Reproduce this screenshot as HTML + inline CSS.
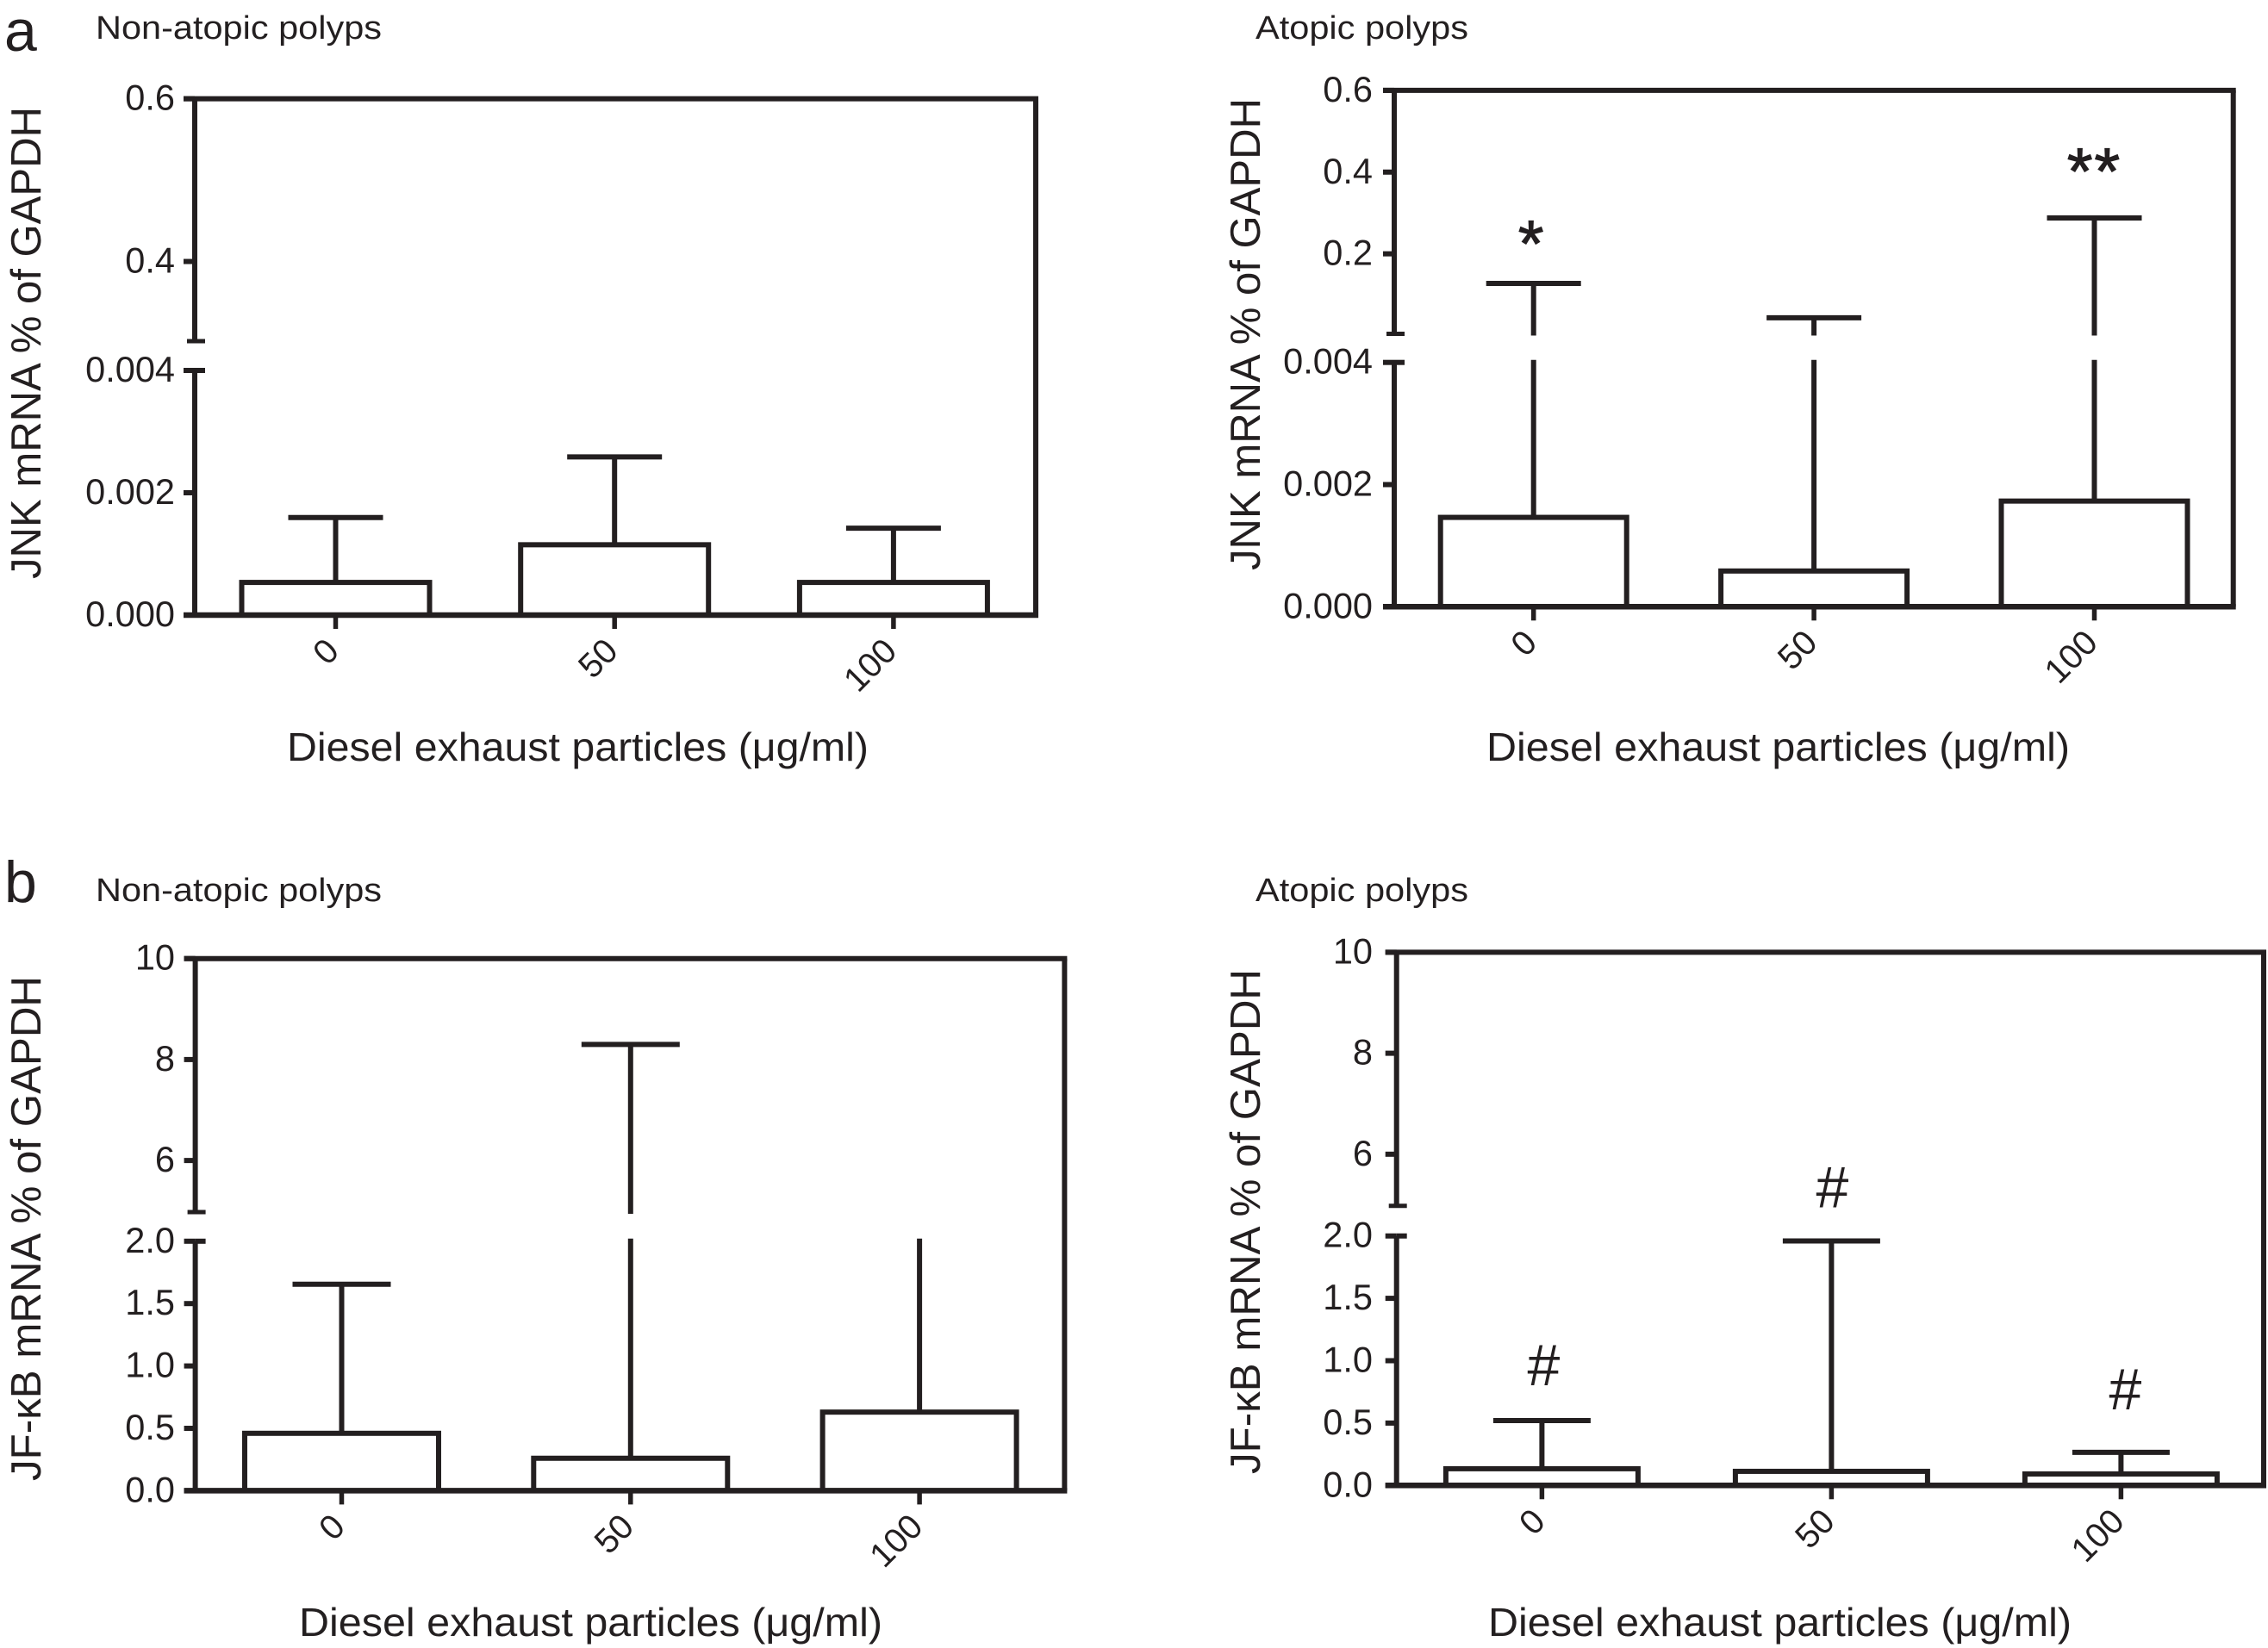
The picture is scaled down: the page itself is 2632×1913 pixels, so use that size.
<!DOCTYPE html>
<html lang="en">
<head>
<meta charset="utf-8">
<title>JNK and NF-kB mRNA by diesel exhaust particle dose</title>
<style>
html,body{margin:0;padding:0;background:#fff;}
svg{display:block;}
text{font-family:"Liberation Sans",sans-serif;fill:#231f20;}
</style>
</head>
<body>
<svg id="figure" width="2632" height="1913" viewBox="0 0 2632 1913" xmlns="http://www.w3.org/2000/svg">
  <rect width="2632" height="1913" fill="#fff"/>
  <text x="5" y="59" font-size="68">a</text>
  <text x="5" y="1047" font-size="68">b</text>
  <text x="111" y="45" font-size="38" textLength="332" lengthAdjust="spacingAndGlyphs">Non-atopic polyps</text>
  <text x="1457" y="45" font-size="38" textLength="247" lengthAdjust="spacingAndGlyphs">Atopic polyps</text>
  <text x="111" y="1046" font-size="38" textLength="332" lengthAdjust="spacingAndGlyphs">Non-atopic polyps</text>
  <text x="1457" y="1046" font-size="38" textLength="247" lengthAdjust="spacingAndGlyphs">Atopic polyps</text>
  <text transform="translate(47,672) rotate(-90)" font-size="49" textLength="548" lengthAdjust="spacingAndGlyphs">JNK mRNA % of GAPDH</text>
  <text transform="translate(1462,662) rotate(-90)" font-size="49" textLength="548" lengthAdjust="spacingAndGlyphs">JNK mRNA % of GAPDH</text>
  <text transform="translate(47,1719) rotate(-90)" font-size="49" textLength="586" lengthAdjust="spacingAndGlyphs">JF-κB mRNA % of GAPDH</text>
  <text transform="translate(1462,1711) rotate(-90)" font-size="49" textLength="586" lengthAdjust="spacingAndGlyphs">JF-κB mRNA % of GAPDH</text>
  <text x="333" y="883" font-size="46" textLength="675" lengthAdjust="spacingAndGlyphs">Diesel exhaust particles (μg/ml)</text>
  <text x="1725" y="883" font-size="46" textLength="677" lengthAdjust="spacingAndGlyphs">Diesel exhaust particles (μg/ml)</text>
  <text x="347" y="1899" font-size="46" textLength="677" lengthAdjust="spacingAndGlyphs">Diesel exhaust particles (μg/ml)</text>
  <text x="1727" y="1899" font-size="46" textLength="677" lengthAdjust="spacingAndGlyphs">Diesel exhaust particles (μg/ml)</text>
</svg>
<script>
// Shared categories
const doseCategories = ['0', '50', '100'];

// JNK, non-atopic
const jnkNonAtopicMeans = [0.000534, 0.00115, 0.000534];
const jnkNonAtopicUppers = [0.001595, 0.002586, 0.00142];
const jnkNonAtopicMarks = ['', '', ''];

// JNK, atopic
const jnkAtopicMeans = [0.001463, 0.000585, 0.00173];
const jnkAtopicUppers = [0.1276, 0.0434, 0.2878];
const jnkAtopicMarks = ['*', '', '**'];

// NF-kB, non-atopic (third whisker ends inside the axis break, so has no cap)
const nfkbNonAtopicMeans = [0.46, 0.26, 0.63];
const nfkbNonAtopicUppers = [1.655, 8.3, 3.5];
const nfkbNonAtopicMarks = ['', '', ''];

// NF-kB, atopic
const nfkbAtopicMeans = [0.134, 0.113, 0.092];
const nfkbAtopicUppers = [0.52, 1.96, 0.265];
const nfkbAtopicMarks = ['#', '#', '#'];

// Tick labels
const jnkLowerTicks = ['0.000', '0.002', '0.004'];
const jnkNonAtopicUpperTicks = ['0.4', '0.6'];
const jnkAtopicUpperTicks = ['0.2', '0.4', '0.6'];
const nfkbLowerTicks = ['0.0', '0.5', '1.0', '1.5', '2.0'];
const nfkbUpperTicks = ['6', '8', '10'];

const INK = '#231f20';
const SVG_NS = 'http://www.w3.org/2000/svg';
const figure = document.getElementById('figure');

function drawLine(parent, x1, y1, x2, y2, width, name) {
  const el = document.createElementNS(SVG_NS, 'line');
  
  
  el.setAttribute('x1', x1);
  el.setAttribute('y1', y1);
  el.setAttribute('x2', x2);
  el.setAttribute('y2', y2);
  el.setAttribute('stroke', INK);
  el.setAttribute('stroke-width', width);
  parent.appendChild(el);
  return el;
}

function drawText(parent, x, y, content, size, anchor, name, transform) {
  const el = document.createElementNS(SVG_NS, 'text');
  
  
  el.setAttribute('x', x);
  el.setAttribute('y', y);
  el.setAttribute('font-size', size);
  el.setAttribute('text-anchor', anchor);
  if (transform) el.setAttribute('transform', transform);
  el.textContent = content;
  parent.appendChild(el);
  return el;
}

function drawPanel(p) {
  const g = document.createElementNS(SVG_NS, 'g');
  
  
  figure.appendChild(g);

  // Broken y axis: two linear scales
  const yLow = v => p.y0 + (p.yLowTop - p.y0) * (v - 0) / p.lowMax;
  const yUp = v => p.yUpBottom + (p.yTop - p.yUpBottom) * (v - p.upMin) / (p.upMax - p.upMin);
  // Categorical x axis
  const xCenter = i => p.xFirst + i * p.xStep;

  const tickLeft = p.xLeft - 13;
  // Frame and axis segments
  drawLine(g, tickLeft, p.yTop, p.xRight + 3, p.yTop, 6, p.name + '-top-border');
  drawLine(g, p.xRight, p.yTop, p.xRight, p.y0, 6, p.name + '-right-border');
  drawLine(g, p.xLeft, p.yTop, p.xLeft, p.yUpBottom, 6, p.name + '-y-axis-upper');
  drawLine(g, p.xLeft, p.yLowTop, p.xLeft, p.y0, 6, p.name + '-y-axis-lower');
  drawLine(g, p.xLeft - 9, p.yUpBottom - 2, p.xLeft + 12, p.yUpBottom - 2, 5, p.name + '-axis-break-upper');
  drawLine(g, p.xLeft + 0, p.yLowTop, p.xLeft + 12, p.yLowTop, 6, p.name + '-axis-break-lower');

  // Bars and whiskers
  p.means.forEach((mean, i) => {
    const cx = xCenter(i);
    const upper = p.uppers[i];
    const hw = p.barWidth / 2;
    const top = yLow(mean);
    const cat = doseCategories[i];
    if (upper <= p.lowMax) {
      drawLine(g, cx, top, cx, yLow(upper), 6, p.name + '-whisker-' + cat);
      drawLine(g, cx - p.capWidth / 2, yLow(upper), cx + p.capWidth / 2, yLow(upper), 6, p.name + '-cap-' + cat);
    } else {
      drawLine(g, cx, top, cx, p.yLowTop - 3, 6, p.name + '-whisker-' + cat);
      if (upper >= p.upMin) {
        drawLine(g, cx, p.yUpBottom, cx, yUp(upper), 6, p.name + '-whisker-upper-' + cat);
        drawLine(g, cx - p.capWidth / 2, yUp(upper), cx + p.capWidth / 2, yUp(upper), 6, p.name + '-cap-' + cat);
      }
    }
    const bar = document.createElementNS(SVG_NS, 'rect');
    
    
    bar.setAttribute('x', cx - hw);
    bar.setAttribute('y', top);
    bar.setAttribute('width', p.barWidth);
    bar.setAttribute('height', p.y0 - top);
    bar.setAttribute('fill', '#fff');
    bar.setAttribute('stroke', INK);
    bar.setAttribute('stroke-width', 6);
    g.appendChild(bar);

    // Significance mark above the whisker
    const mark = p.marks[i];
    if (mark) {
      const capY = upper <= p.lowMax ? yLow(upper) : yUp(upper);
      const isStar = mark.charAt(0) === '*';
      const size = isStar ? 76 : 68;
      const rise = isStar ? 38 : 24;
      const el = drawText(g, cx + p.markNudgeX[i], capY - p.markGaps[i] + rise, mark, size, 'middle', p.name + '-significance-' + cat);
      if (isStar) {
        el.setAttribute('stroke', INK);
        el.setAttribute('stroke-width', 1.2);
        el.setAttribute('letter-spacing', 2);
      }
    }

    // Category tick and rotated label
    drawLine(g, cx, p.y0, cx, p.y0 + 16, 5.5, p.name + '-x-tick-' + cat);
    const lx = cx + 6;
    const ly = p.y0 + 44;
    drawText(g, lx, ly, cat, 40, 'end', p.name + '-x-label-' + cat, 'rotate(-45 ' + lx + ' ' + ly + ')');
  });

  // Baseline drawn over bar bottoms
  drawLine(g, tickLeft, p.y0, p.xRight + 3, p.y0, 6.5, p.name + '-x-axis');

  // Y ticks
  p.lowerTicks.forEach(label => {
    const y = yLow(parseFloat(label));
    drawLine(g, tickLeft, y, p.xLeft, y, 6, p.name + '-y-tick-' + label);
    drawText(g, p.labelRight, y + 13, label, 41.5, 'end', p.name + '-y-label-' + label);
  });
  p.upperTicks.forEach(label => {
    const y = yUp(parseFloat(label));
    drawLine(g, tickLeft, y, p.xLeft, y, 6, p.name + '-y-tick-' + label);
    drawText(g, p.labelRight, y + 13, label, 41.5, 'end', p.name + '-y-label-' + label);
  });
}

drawPanel({
  name: 'jnk-non-atopic',
  means: jnkNonAtopicMeans, uppers: jnkNonAtopicUppers, marks: jnkNonAtopicMarks,
  markGaps: [0, 0, 0], markNudgeX: [0, 0, 0],
  lowerTicks: jnkLowerTicks, upperTicks: jnkNonAtopicUpperTicks,
  lowMax: 0.004, upMin: 0.3, upMax: 0.6,
  xLeft: 226, xRight: 1202, y0: 714, yLowTop: 430, yUpBottom: 398, yTop: 114.6,
  xFirst: 389.5, xStep: 323.7, barWidth: 218, capWidth: 110, labelRight: 203
});
drawPanel({
  name: 'jnk-atopic',
  means: jnkAtopicMeans, uppers: jnkAtopicUppers, marks: jnkAtopicMarks,
  markGaps: [58, 0, 66], markNudgeX: [-2, 0, 0],
  lowerTicks: jnkLowerTicks, upperTicks: jnkAtopicUpperTicks,
  lowMax: 0.004, upMin: 0, upMax: 0.6,
  xLeft: 1618, xRight: 2591.7, y0: 704.3, yLowTop: 420.7, yUpBottom: 389.5, yTop: 104.9,
  xFirst: 1779.7, xStep: 325.4, barWidth: 216, capWidth: 110, labelRight: 1593
});
drawPanel({
  name: 'nfkb-non-atopic',
  means: nfkbNonAtopicMeans, uppers: nfkbNonAtopicUppers, marks: nfkbNonAtopicMarks,
  markGaps: [0, 0, 0], markNudgeX: [0, 0, 0],
  lowerTicks: nfkbLowerTicks, upperTicks: nfkbUpperTicks,
  lowMax: 2, upMin: 4.944, upMax: 10,
  xLeft: 226.6, xRight: 1235.4, y0: 1730.4, yLowTop: 1440.8, yUpBottom: 1409, yTop: 1112.7,
  xFirst: 396.5, xStep: 335.3, barWidth: 225, capWidth: 114, labelRight: 203
});
drawPanel({
  name: 'nfkb-atopic',
  means: nfkbAtopicMeans, uppers: nfkbAtopicUppers, marks: nfkbAtopicMarks,
  markGaps: [65, 63, 74], markNudgeX: [2, 1, 5],
  lowerTicks: nfkbLowerTicks, upperTicks: nfkbUpperTicks,
  lowMax: 2, upMin: 4.944, upMax: 10,
  xLeft: 1620.7, xRight: 2627, y0: 1724.3, yLowTop: 1434.7, yUpBottom: 1401.7, yTop: 1105.4,
  xFirst: 1789.4, xStep: 336, barWidth: 223, capWidth: 113, labelRight: 1593
});
</script>
</body>
</html>
